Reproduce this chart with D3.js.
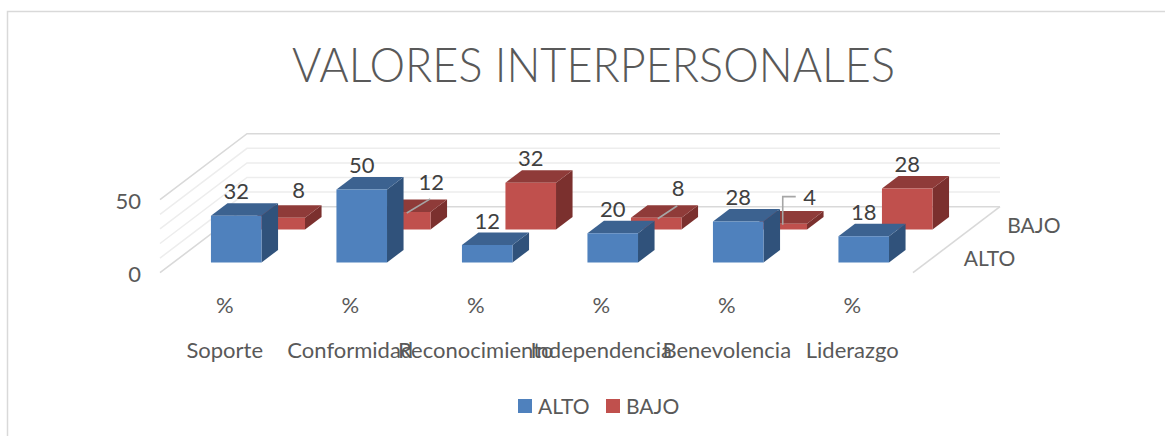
<!DOCTYPE html>
<html>
<head>
<meta charset="utf-8">
<script src="https://cdn.jsdelivr.net/npm/d3@7"></script>
<style>
html, body { margin: 0; padding: 0; background: #fff; }
svg { display: block; }
text { font-family: Lato, "Open Sans", sans-serif; }
</style>
</head>
<body>
<svg id="chart" width="1165" height="436"></svg>
<script>
var categories = ["Soporte", "Conformidad", "Reconocimiento", "Independencia", "Benevolencia", "Liderazgo"];
var seriesNames = ["ALTO", "BAJO"];
var alto = [32, 50, 12, 20, 28, 18];
var bajo = [8, 12, 32, 8, 4, 28];
var gridValues = [0, 10, 20, 30, 40, 50];
var tickLabels = [0, 50];

var colors = {
    ALTO: { front: "#4f81bd", top: "#3c6290", side: "#30527b" },
    BAJO: { front: "#c0504d", top: "#8f3b39", side: "#7b302e" }
};

// hand placed labels, the ones Excel pushed off their bars
var labelMoves = {
    "BAJO|Soporte": { dx: 19, dy: -3 },
    "BAJO|Conformidad": { dx: 26, dy: -6, leader: "line" },
    "BAJO|Independencia": { dx: 22, dy: -5, leader: "line" },
    "BAJO|Benevolencia": { dx: 28, dy: -2, leader: "elbow" }
};

var svg = d3.select("#chart");

// projection of the fake 3d box
var floorLeft = 160;
var floorRight = 913;
var floorY = 272.7;
var depthX = 87;
var depthY = 66;

var x = d3.scaleBand().domain(categories).range([floorLeft, floorRight]);
var z = d3.scaleBand().domain(seriesNames).range([0, 1]);
var y = d3.scaleLinear().domain([0, 50]).range([floorY, floorY - 73]);

var barWidth = x.bandwidth() * 0.403;
var barDepth = 0.19;

function project(px, pz, value) {
    return [px + pz * depthX, y(value) - pz * depthY];
}

function polygon(points) {
    return "M" + points.map(function (p) { return p.join(","); }).join("L") + "Z";
}

// chart frame
svg.append("path")
    .attr("d", "M7.5,436V11.5H1165")
    .attr("fill", "none")
    .attr("stroke", "#d9d9d9")
    .attr("stroke-width", 1.5);

svg.append("text")
    .attr("x", 593.5)
    .attr("y", 82)
    .attr("text-anchor", "middle")
    .attr("font-size", 48)
    .attr("font-weight", 300)
    .attr("textLength", 603)
    .attr("lengthAdjust", "spacingAndGlyphs")
    .attr("fill", "#595959")
    .text("VALORES INTERPERSONALES");

// walls
var walls = svg.append("g").attr("fill", "none");

gridValues.forEach(function (v) {
    var edge = v === 0 || v === 50;
    var a = project(floorLeft, 0, v);
    var b = project(floorLeft, 1, v);
    var c = project(floorRight, 1, v);
    walls.append("path")
        .attr("d", "M" + a.join(",") + "L" + b.join(",") + "L" + c.join(","))
        .attr("stroke", edge ? "#d9d9d9" : "#ededed")
        .attr("stroke-width", edge ? 1.6 : 1.5);
});

var floorFront = project(floorRight, 0, 0);
var floorBack = project(floorRight, 1, 0);
walls.append("line")
    .attr("x1", floorFront[0]).attr("y1", floorFront[1])
    .attr("x2", floorBack[0]).attr("y2", floorBack[1])
    .attr("stroke", "#d9d9d9")
    .attr("stroke-width", 1.6);

// value axis, only 0 and 50 are labelled
var yAxis = svg.append("g")
    .attr("transform", "translate(141,2)")
    .call(d3.axisLeft(y).tickValues(tickLabels).tickSize(0).tickPadding(0));
yAxis.select(".domain").remove();
yAxis.selectAll("text")
    .attr("font-size", 22)
    .attr("font-family", "Lato")
    .attr("fill", "#595959");

function drawBar(g, seriesName, category, value) {
    var col = colors[seriesName];
    var x0 = x(category) + (x.bandwidth() - barWidth) / 2;
    var x1 = x0 + barWidth;
    var z0 = z(seriesName) + (z.bandwidth() - barDepth) / 2;
    var z1 = z0 + barDepth;

    g.append("path")
        .attr("fill", col.side)
        .attr("d", polygon([project(x1, z0, 0), project(x1, z1, 0), project(x1, z1, value), project(x1, z0, value)]));
    g.append("path")
        .attr("fill", col.top)
        .attr("d", polygon([project(x0, z0, value), project(x1, z0, value), project(x1, z1, value), project(x0, z1, value)]));
    g.append("path")
        .attr("fill", col.front)
        .attr("d", polygon([project(x0, z0, 0), project(x1, z0, 0), project(x1, z0, value), project(x0, z0, value)]));

    var frontTop = project((x0 + x1) / 2, z0, value);
    var backTop = project((x0 + x1) / 2, z1, value);
    return { cx: frontTop[0], frontTop: frontTop[1], backTop: backTop[1] };
}

var bars = svg.append("g");
var labels = [];

// back row first so the front row covers it
[["BAJO", bajo], ["ALTO", alto]].forEach(function (row) {
    var rowName = row[0];
    row[1].forEach(function (value, i) {
        var pos = drawBar(bars, rowName, categories[i], value);
        var move = labelMoves[rowName + "|" + categories[i]] || { dx: 0, dy: 0 };
        labels.push({
            value: value,
            cx: pos.cx,
            frontTop: pos.frontTop,
            lx: pos.cx + move.dx,
            ly: pos.backTop - 11.5 + move.dy,
            leader: move.leader
        });
    });
});

var labelLayer = svg.append("g");

labels.forEach(function (d) {
    if (d.leader === "line") {
        labelLayer.append("line")
            .attr("x1", d.cx + 1.5).attr("y1", d.frontTop + 1)
            .attr("x2", d.lx - 1).attr("y2", d.ly + 17)
            .attr("stroke", "#a6a6a6").attr("stroke-width", 1.6);
    } else if (d.leader === "elbow") {
        labelLayer.append("path")
            .attr("d", "M" + (d.cx + 1) + "," + (d.frontTop + 1) + "V" + (d.ly - 1) + "H" + (d.lx - 14))
            .attr("fill", "none")
            .attr("stroke", "#a6a6a6").attr("stroke-width", 1.6);
    }
    labelLayer.append("text")
        .attr("x", d.lx)
        .attr("y", d.ly)
        .attr("dy", "0.35em")
        .attr("text-anchor", "middle")
        .attr("font-size", 22)
        .attr("fill", "#404040")
        .text(d.value);
});

// category labels, % sits on its own row above the name
var catLabels = svg.append("g")
    .attr("text-anchor", "middle")
    .attr("fill", "#595959")
    .attr("font-size", 22);

categories.forEach(function (c) {
    var cx = x(c) + x.bandwidth() / 2 + 2;
    catLabels.append("text").attr("x", cx).attr("y", 313).text("%");
    catLabels.append("text").attr("x", cx).attr("y", 358).text(c);
});

// series names along the floor edge
var serLabels = svg.append("g").attr("fill", "#595959").attr("font-size", 21);
seriesNames.forEach(function (s) {
    var p = project(floorRight, z(s) + z.bandwidth() / 2, 0);
    serLabels.append("text")
        .attr("x", p[0] + 29)
        .attr("y", p[1] + 10)
        .text(s);
});

// legend
var legendX = d3.scalePoint().domain(seriesNames).range([518, 606]);
var legend = svg.selectAll(".legend-item")
    .data(seriesNames)
    .enter().append("g")
    .attr("class", "legend-item")
    .attr("transform", function (d) { return "translate(" + legendX(d) + ",399)"; });

legend.append("rect")
    .attr("width", 14)
    .attr("height", 14)
    .attr("fill", function (d) { return colors[d].front; });

legend.append("text")
    .attr("x", 20)
    .attr("y", 15)
    .attr("font-size", 21)
    .attr("fill", "#595959")
    .text(function (d) { return d; });
</script>
</body>
</html>
